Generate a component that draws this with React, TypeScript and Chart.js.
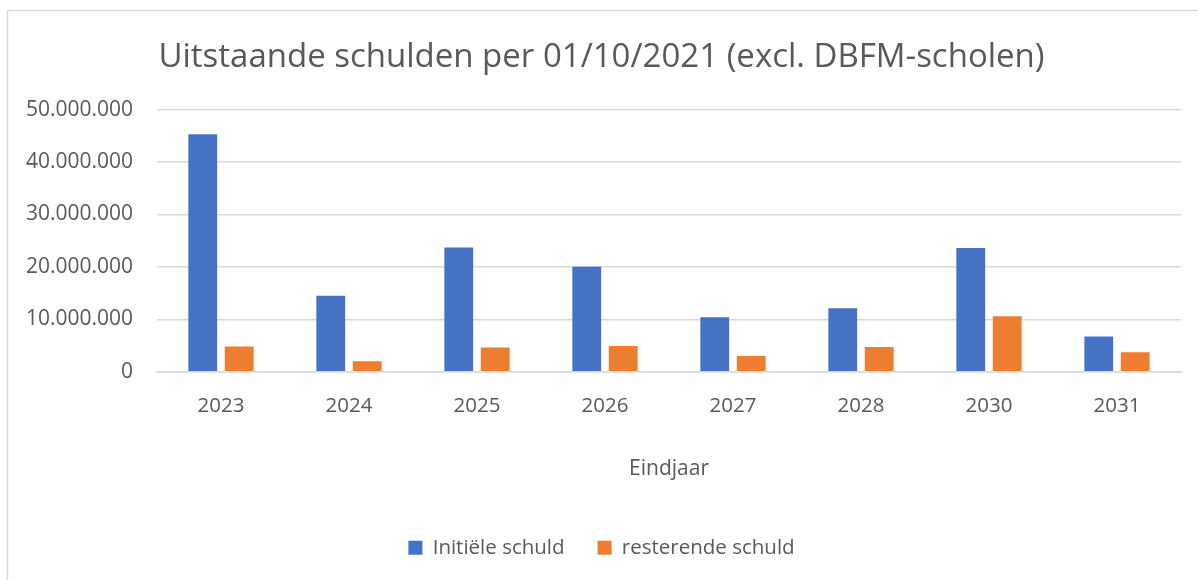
import React, { useEffect, useRef } from "react";
import { Chart, registerables } from "chart.js";

Chart.register(...registerables);

const chartTitle = "Uitstaande schulden per 01/10/2021 (excl. DBFM-scholen)";
const xAxisTitle = "Eindjaar";
const categories = ["2023", "2024", "2025", "2026", "2027", "2028", "2030", "2031"];
const seriesNames = ["Initiële schuld", "resterende schuld"];
const initieleSchuld = [45300000, 14500000, 23700000, 20000000, 10400000, 12100000, 23600000, 6700000];
const resterendeSchuld = [4800000, 2000000, 4600000, 4900000, 3000000, 4700000, 10600000, 3700000];
const yMax = 50000000;
const yStep = 10000000;

const FONT = "'Open Sans', 'Noto Sans', sans-serif";
const TEXT = "#595959";
const CANVAS_W = 1222;

function formatNL(v: number): string {
  return String(Math.round(v)).replace(/\B(?=(\d{3})+(?!\d))/g, ".");
}

const borderPlugin = {
  id: "outerBorder",
  beforeDraw(chart: any) {
    const ctx = chart.ctx;
    ctx.save();
    ctx.strokeStyle = "#d9d9d9";
    ctx.lineWidth = 1.5;
    ctx.beginPath();
    ctx.moveTo(7.5, chart.height);
    ctx.lineTo(7.5, 10.5);
    ctx.lineTo(chart.width, 10.5);
    ctx.stroke();
    ctx.restore();
  },
};

export default function App() {
  const ref = useRef<HTMLCanvasElement | null>(null);
  useEffect(() => {
    if (!ref.current) return;
    const chart = new Chart(ref.current, {
      type: "bar",
      data: {
        labels: categories,
        datasets: [
          {
            label: seriesNames[0],
            data: initieleSchuld,
            backgroundColor: "#4472C4",
            categoryPercentage: 0.57,
            barPercentage: 0.79,
          },
          {
            label: seriesNames[1],
            data: resterendeSchuld,
            backgroundColor: "#ED7D31",
            categoryPercentage: 0.57,
            barPercentage: 0.79,
          },
        ],
      },
      options: {
        animation: false,
        responsive: false,
        maintainAspectRatio: false,
        layout: { padding: { left: 22, right: 41, top: 0, bottom: 12 } },
        plugins: {
          title: {
            display: true,
            text: chartTitle,
            color: TEXT,
            font: { family: FONT, size: 33, weight: "normal" },
            padding: { top: 38, bottom: 32 },
          },
          legend: {
            position: "bottom",
            labels: {
              color: TEXT,
              font: { family: FONT, size: 20.5 },
              boxWidth: 14,
              boxHeight: 14,
              padding: 33,
            },
          },
          tooltip: { enabled: false },
        },
        scales: {
          x: {
            grid: { display: false, drawTicks: false },
            border: { display: true, color: "#d9d9d9", width: 1.5 },
            ticks: { color: TEXT, font: { family: FONT, size: 20.5 }, padding: 22 },
            title: {
              display: true,
              text: xAxisTitle,
              color: TEXT,
              font: { family: FONT, size: 21 },
              padding: { top: 16, bottom: 23 },
            },
          },
          y: {
            min: 0,
            max: yMax,
            grid: { color: "#d9d9d9", lineWidth: 1.5, drawTicks: false },
            border: { display: false },
            afterFit: (scale: any) => {
              scale.width = 135;
            },
            ticks: {
              stepSize: yStep,
              color: TEXT,
              font: { family: FONT, size: 21 },
              padding: 24,
              callback: (v: any) => formatNL(Number(v)),
            },
          },
        },
      },
      plugins: [borderPlugin],
    });
    return () => chart.destroy();
  }, []);

  return (
    <div style={{ position: "fixed", left: 0, top: 0, width: 1198, height: 580, overflow: "hidden", background: "#fff" }}>
      <canvas ref={ref} width={CANVAS_W} height={580} style={{ display: "block", width: CANVAS_W, height: 580 }} />
    </div>
  );
}
